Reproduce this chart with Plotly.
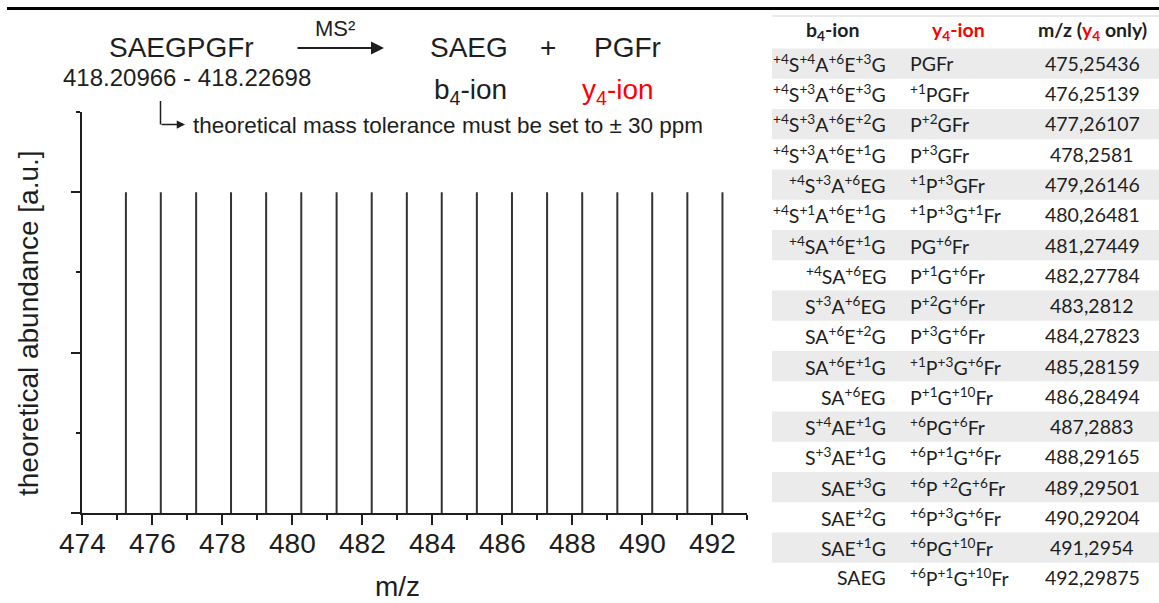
import re
import plotly.graph_objects as go

W, H = 1159, 603

# fragment ions: exact m/z of the y4 fragment for every labelling pattern
mz_values = [475.25436, 476.25139, 477.26107, 478.2581, 479.26146, 480.26481,
             481.27449, 482.27784, 483.2812, 484.27823, 485.28159, 486.28494,
             487.2883, 488.29165, 489.29501, 490.29204, 491.2954, 492.29875]
abundance = [100, 100, 100, 100, 100, 100, 100, 100, 100,
             100, 100, 100, 100, 100, 100, 100, 100, 100]

# {n} marks a superscript label shift
b4_ions = ["{+4}S{+4}A{+6}E{+3}G", "{+4}S{+3}A{+6}E{+3}G", "{+4}S{+3}A{+6}E{+2}G",
           "{+4}S{+3}A{+6}E{+1}G", "{+4}S{+3}A{+6}EG", "{+4}S{+1}A{+6}E{+1}G",
           "{+4}SA{+6}E{+1}G", "{+4}SA{+6}EG", "S{+3}A{+6}EG", "SA{+6}E{+2}G",
           "SA{+6}E{+1}G", "SA{+6}EG", "S{+4}AE{+1}G", "S{+3}AE{+1}G",
           "SAE{+3}G", "SAE{+2}G", "SAE{+1}G", "SAEG"]
y4_ions = ["PGFr", "{+1}PGFr", "P{+2}GFr", "P{+3}GFr", "{+1}P{+3}GFr",
           "{+1}P{+3}G{+1}Fr", "PG{+6}Fr", "P{+1}G{+6}Fr", "P{+2}G{+6}Fr",
           "P{+3}G{+6}Fr", "{+1}P{+3}G{+6}Fr", "P{+1}G{+10}Fr", "{+6}PG{+6}Fr",
           "{+6}P{+1}G{+6}Fr", "{+6}P {+2}G{+6}Fr", "{+6}P{+3}G{+6}Fr",
           "{+6}PG{+10}Fr", "{+6}P{+1}G{+10}Fr"]

x_tick_values = [474, 476, 478, 480, 482, 484, 486, 488, 490, 492]

INK = "#1e1e1e"
RED = "#ff0000"
ARIAL = "Liberation Sans, Arial, sans-serif"
TABLE_FONT = "Lato, Calibri, sans-serif"


def fx(px):
    return px / W


def fy(py):
    return 1 - py / H


def sup(s):
    return re.sub(r"\{([^}]*)\}", r"<sup>\1</sup>", s)


# stick spectrum
xs, ys = [], []
for m, a in zip(mz_values, abundance):
    xs += [m, m, None]
    ys += [0, a, None]

fig = go.Figure(go.Scatter(x=xs, y=ys, mode="lines",
                           line=dict(color="#333333", width=2),
                           hoverinfo="skip", showlegend=False))

shapes = []
annotations = []

# heavy rule across the top
shapes.append(dict(type="line", xref="paper", yref="paper",
                   x0=fx(7), x1=fx(1159), y0=fy(8.5), y1=fy(8.5),
                   line=dict(color="#000000", width=3)))

# table: header rule and alternating row bands
shapes.append(dict(type="line", xref="paper", yref="paper",
                   x0=fx(772), x1=fx(1159), y0=fy(16), y1=fy(16),
                   line=dict(color="#d6d6d6", width=1)))
row0, row_h = 63.5, 30.25
cell_font = dict(family=TABLE_FONT, size=19.5, color=INK)
for i in range(len(mz_values)):
    cy = row0 + i * row_h
    if i % 2 == 0:
        shapes.append(dict(type="rect", xref="paper", yref="paper",
                           x0=fx(772), x1=fx(1159),
                           y0=fy(cy + row_h / 2), y1=fy(cy - row_h / 2),
                           fillcolor="#ebebeb", line=dict(width=0), layer="below"))
    annotations.append(dict(x=fx(888), y=fy(cy), text=sup(b4_ions[i]),
                            xanchor="right", font=cell_font))
    annotations.append(dict(x=fx(908), y=fy(cy), text=sup(y4_ions[i]),
                            xanchor="left", font=cell_font))
    annotations.append(dict(x=fx(1092), y=fy(cy),
                            text=str(mz_values[i]).replace(".", ","), font=cell_font))

annotations += [
    dict(x=fx(832), y=fy(31), text="<b>b<sub>4</sub>-ion</b>", font=cell_font),
    dict(x=fx(958), y=fy(31), text="<b>y<sub>4</sub>-ion</b>",
         font=dict(family=TABLE_FONT, size=19.5, color=RED)),
    dict(x=fx(1092), y=fy(31),
         text="<b>m/z (<span style='color:#ff0000'>y<sub>4</sub></span> only)</b>",
         font=cell_font),
]

# reaction scheme above the spectrum
big = dict(family=ARIAL, size=28, color=INK)
annotations += [
    dict(x=fx(181), y=fy(48), text="SAEGPGFr", font=big),
    dict(x=fx(187), y=fy(78), text="418.20966 - 418.22698",
         font=dict(family=ARIAL, size=24, color=INK)),
    dict(x=fx(335), y=fy(28), text="MS²", font=dict(family=ARIAL, size=22, color=INK)),
    dict(x=fx(469), y=fy(48), text="SAEG", font=big),
    dict(x=fx(548), y=fy(48), text="+", font=big),
    dict(x=fx(627), y=fy(48), text="PGFr", font=big),
    dict(x=fx(470), y=fy(92), text="b<sub>4</sub>-ion", font=big),
    dict(x=fx(618), y=fy(92), text="y<sub>4</sub>-ion",
         font=dict(family=ARIAL, size=28, color=RED)),
    dict(x=fx(191), y=fy(125), text="theoretical mass tolerance must be set to ± 30 ppm",
         xanchor="left", font=dict(family=ARIAL, size=22.5, color=INK)),
    # axis titles
    dict(x=fx(397), y=fy(586), text="m/z", font=big),
    dict(x=fx(28), y=fy(323), text="theoretical abundance [a.u.]", textangle=-90, font=big),
]

# x tick labels placed on the data axis
for t in x_tick_values:
    annotations.append(dict(x=t, xref="x", y=fy(543), text=str(t), font=big))

for a in annotations:
    a.setdefault("xref", "paper")
    a.setdefault("yref", "paper")
    a.setdefault("xanchor", "center")
    a.setdefault("yanchor", "middle")
    a.setdefault("showarrow", False)

# arrows
annotations.append(dict(x=fx(384), y=fy(48), xref="paper", yref="paper", text="",
                        xanchor="center", yanchor="middle",
                        showarrow=True, ax=-88, ay=0, arrowhead=2, arrowsize=1.3,
                        arrowwidth=2, arrowcolor=INK))
shapes.append(dict(type="line", xref="paper", yref="paper",
                   x0=fx(160.5), x1=fx(160.5), y0=fy(101), y1=fy(124.5),
                   line=dict(color=INK, width=1.5)))
annotations.append(dict(x=fx(185), y=fy(124.5), xref="paper", yref="paper", text="",
                        xanchor="center", yanchor="middle",
                        showarrow=True, ax=-25, ay=0, arrowhead=2, arrowsize=1.1,
                        arrowwidth=1.5, arrowcolor=INK))

fig.update_layout(
    width=W, height=H,
    margin=dict(l=0, r=0, t=0, b=0),
    paper_bgcolor="white", plot_bgcolor="rgba(0,0,0,0)",
    shapes=shapes, annotations=annotations,
    xaxis=dict(domain=[fx(82), fx(747)], range=[474, 493],
               tickmode="array", tickvals=x_tick_values, showticklabels=False,
               ticks="outside", ticklen=10, tickwidth=2, tickcolor=INK,
               showline=True, linecolor=INK, linewidth=2, showgrid=False, zeroline=False,
               minor=dict(dtick=1, tick0=474, ticks="outside", ticklen=5, tickwidth=2,
                          tickcolor=INK, showgrid=False)),
    yaxis=dict(domain=[fy(513), fy(112)], range=[0, 125],
               tick0=0, dtick=50, ticks="outside", ticklen=9, tickwidth=2, tickcolor=INK,
               showticklabels=False,
               showline=True, linecolor=INK, linewidth=2, showgrid=False, zeroline=False,
               minor=dict(dtick=25, tick0=0, ticks="outside", ticklen=4, tickwidth=2,
                          tickcolor=INK, showgrid=False)),
)

fig.write_html("out.html")
